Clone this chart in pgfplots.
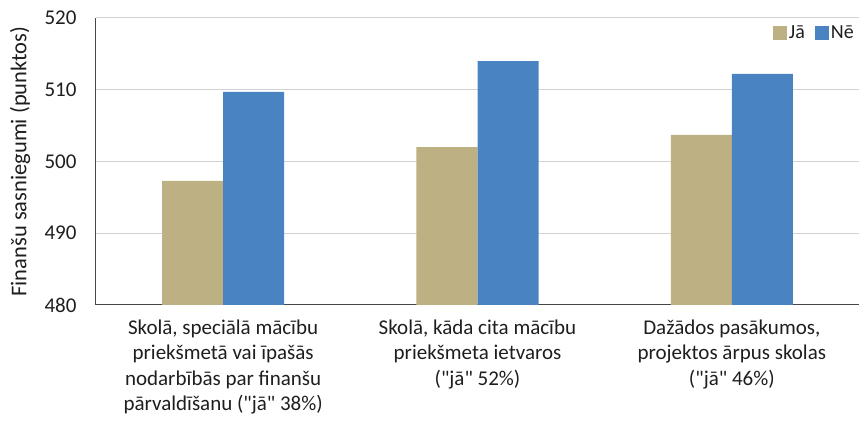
\documentclass[border=0pt]{standalone}
\usepackage{pgfplots}
\pgfplotsset{compat=1.18}
\usepackage{fontspec}
\setmainfont{Carlito}[Ligatures=TeXOff]
\definecolor{tanc}{RGB}{189,176,131}
\definecolor{bluec}{RGB}{74,131,194}
\definecolor{gridc}{RGB}{210,210,210}
\definecolor{axc}{RGB}{70,70,70}
\definecolor{txtc}{RGB}{30,30,30}
\begin{document}
\begin{tikzpicture}
\begin{axis}[
  scale only axis, width=763pt, height=287pt,
  xmin=-0.5, xmax=2.5, ymin=480, ymax=520,
  ytick={480,490,500,510,520},
  xtick={0,1,2},
  xticklabels={{Skolā, speciālā mācību\\priekšmetā vai īpašās\\nodarbībās par finanšu\\pārvaldīšanu ("jā" 38\%)},
               {Skolā, kāda cita mācību\\priekšmeta ietvaros\\("jā" 52\%)},
               {Dažādos pasākumos,\\projektos ārpus skolas\\("jā" 46\%)}},
  ybar=0pt, bar width=0.24,
  axis lines*=left,
  axis line style={axc, line width=1pt},
  ymajorgrids, grid style={gridc, line width=1pt},
  major tick length=0pt,
  /pgf/number format/assume math mode=true,
  yticklabel style={font=\fontsize{21}{24}\selectfont, text=txtc, xshift=-16pt},
  xticklabel style={font=\fontsize{21}{25.6}\selectfont, text=txtc, align=center, yshift=-11pt},
  ylabel={Finanšu sasniegumi (punktos)},
  ylabel style={at={(axis description cs:0,0.5)}, anchor=center, yshift=76pt, font=\fontsize{22.5}{26}\selectfont, text=txtc},
  legend columns=2,
  legend style={at={(1.0,0.948)}, anchor=east, draw=none, fill=none, font=\fontsize{20}{22}\selectfont, text=txtc,
    /tikz/every even column/.append style={column sep=8pt}},
  legend image code/.code={\fill[#1] (0pt,-7pt) rectangle (14pt,7pt);},
]
\addplot[fill=tanc, draw=none, bar shift=-0.12] coordinates {(0,497.3) (1,502.0) (2,503.7)};
\addplot[fill=bluec, draw=none, bar shift=0.12] coordinates {(0,509.7) (1,514.0) (2,512.2)};
\legend{Jā, Nē}
\end{axis}
\pgfresetboundingbox
\path[use as bounding box] ([shift={(-96pt,-117pt)}]current axis.south west) rectangle ([shift={(0pt,18pt)}]current axis.north east);
\end{tikzpicture}
\end{document}
